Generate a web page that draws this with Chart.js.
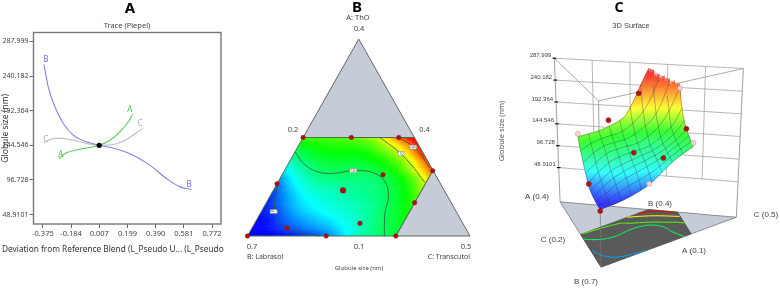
<!DOCTYPE html>
<html>
<head>
<meta charset="utf-8">
<title>Globule size</title>
<script src="https://cdn.jsdelivr.net/npm/chart.js@4"></script>
<style>
  html, body { margin: 0; padding: 0; background: #fff; }
  canvas { position: absolute; top: 0; filter: blur(0.35px); }
</style>
</head>
<body>
<canvas id="traceChart" width="240" height="288" style="left:0;width:240px;height:288px"></canvas>
<canvas id="ternaryChart" width="270" height="288" style="left:240px;width:270px;height:288px"></canvas>
<canvas id="surfaceChart" width="270" height="288" style="left:510px;width:270px;height:288px"></canvas>
<script>
// panel A: trace curves
var traceXTicks = [-0.375, -0.184, 0.007, 0.199, 0.390, 0.581, 0.772];
var traceXLabels = ["-0.375", "-0.184", "0.007", "0.199", "0.390", "0.581", "0.772"];
var sizeTicks = [287.999, 240.182, 192.364, 144.546, 96.728, 48.9101];
var sizeLabels = ["287.999", "240.182", "192.364", "144.546", "96.728", "48.9101"];
var traceBX = [-0.368, -0.339, -0.294, -0.237, -0.169, -0.079, 0.008, 0.112, 0.237, 0.350, 0.463, 0.554, 0.633];
var traceBY = [256.2, 225.3, 197.7, 174.7, 158.5, 149.3, 144.7, 140.1, 130.9, 117.1, 98.7, 87.1, 83.4];
var traceAX = [-0.267, -0.215, -0.124, 0.008, 0.079, 0.147, 0.204, 0.233];
var traceAY = [126.3, 134.1, 139.2, 144.7, 151.6, 163.1, 177.0, 187.1];
var traceCX = [-0.368, -0.328, -0.260, -0.169, -0.079, 0.008, 0.112, 0.192, 0.260, 0.301];
var traceCY = [148.5, 152.6, 154.4, 151.6, 147.0, 144.7, 146.1, 152.6, 161.8, 167.8];

// globule size over the blend, rows are A levels, columns are C levels
var gridA = [0.1, 0.1125, 0.125, 0.1375, 0.15, 0.1625, 0.175, 0.1875, 0.2, 0.2125, 0.225, 0.2375, 0.25];
var gridC = [0.2, 0.2167, 0.2333, 0.25, 0.2667, 0.2833, 0.3, 0.3167, 0.3333, 0.35, 0.3667, 0.3833, 0.4];
var sizeGrid = [
  [83, 84, 85, 87, 90, 94, 99, 107, 118, 129, 138, 145, 152],
  [84, 86, 91, 96, 101, 105, 109, 115, 122, 132, 141, 148, 154],
  [85, 88, 96, 103, 108, 112, 116, 121, 127, 134, 143, 150, 158],
  [87, 93, 102, 110, 115, 119, 123, 127, 131, 137, 145, 153, 163],
  [89, 99, 108, 115, 120, 124, 127, 130, 134, 139, 147, 156, 169],
  [92, 104, 113, 121, 125, 128, 131, 134, 137, 142, 150, 161, 177],
  [96, 110, 120, 128, 131, 134, 136, 137, 139, 146, 155, 167, 189],
  [105, 118, 128, 137, 139, 141, 141, 141, 143, 152, 163, 178, 208],
  [116, 128, 138, 145, 146, 147, 146, 148, 154, 164, 180, 206, 242],
  [127, 139, 147, 152, 152, 152, 153, 158, 166, 176, 198, 236, 285],
  [141, 150, 155, 158, 158, 158, 162, 170, 180, 198, 234, 280, 320],
  [155, 160, 163, 165, 166, 167, 173, 185, 203, 232, 272, 315, 350],
  [172, 172, 172, 173, 176, 180, 188, 213, 246, 277, 315, 350, 380]
];

// design points
var pointA = [0.25, 0.25, 0.25, 0.1994, 0.1507, 0.1, 0.1, 0.1, 0.1122, 0.1796, 0.1696, 0.1933, 0.1193];
var pointC = [0.2, 0.265, 0.329, 0.4, 0.4, 0.4, 0.306, 0.2, 0.247, 0.2, 0.294, 0.336, 0.342];
var pointSize = [178, 189, 229, 239, 170, 159, 103, 80, 96, 103, 143, 146, 137];
var pointBehind = [true, false, false, true, false, true, true, false, false, false, false, false, false];
var pointHidden = [false, false, false, false, false, false, false, false, true, false, false, true, false];

// contours
var contour97A = [0.1751, 0.1497, 0.1269, 0.1117, 0.1056, 0.1];
var contour97C = [0.2026, 0.2113, 0.2258, 0.247, 0.268, 0.298];
var contour145A = [0.2284, 0.2107, 0.198, 0.1954, 0.1995, 0.1964, 0.1827, 0.16, 0.1345, 0.1];
var contour145C = [0.2, 0.22, 0.2443, 0.268, 0.293, 0.3215, 0.3441, 0.36, 0.368, 0.3845];
var contour165A = [0.25, 0.2375, 0.225, 0.2, 0.175, 0.1625, 0.15];
var contour165C = [0.205, 0.2833, 0.3, 0.34, 0.372, 0.388, 0.4];
var contour192A = [0.25, 0.231, 0.2107, 0.1812];
var contour192C = [0.3037, 0.3356, 0.3638, 0.3987];
var contour240A = [0.25, 0.234, 0.2035];
var contour240C = [0.3279, 0.3588, 0.3943];

// limits of the blend region
var regionA = [0.25, 0.25, 0.2, 0.1, 0.1, 0.25];
var regionC = [0.2, 0.35, 0.4, 0.4, 0.2, 0.2];
var topCapA = [0.4, 0.25, 0.25, 0.4];
var topCapC = [0.2, 0.2, 0.35, 0.2];
var sideCapA = [0.2, 0.1, 0.1, 0.2];
var sideCapC = [0.4, 0.5, 0.4, 0.4];

// surface colour scale
var colorSizes = [85, 118, 160, 200, 262];
var colorStops = [[0, 0, 255], [0, 255, 255], [0, 255, 0], [255, 255, 0], [255, 0, 0]];

function sizeRgb(v) {
  if (v <= colorSizes[0]) return colorStops[0];
  for (let i = 1; i < colorSizes.length; i++) {
    if (v <= colorSizes[i]) {
      let f = (v - colorSizes[i - 1]) / (colorSizes[i] - colorSizes[i - 1]);
      return colorStops[i].map((c, k) => colorStops[i - 1][k] + (c - colorStops[i - 1][k]) * f);
    }
  }
  return colorStops[colorStops.length - 1];
}

function css(rgb, lighten) {
  let l = lighten || 0;
  return "rgb(" + rgb.map(c => Math.round(c + (255 - c) * l)).join(",") + ")";
}

function zipXY(xs, ys) {
  return xs.map((x, i) => ({ x: x, y: ys[i] }));
}

function sizeAt(r, c) {
  let i = Math.min(Math.floor(r), gridA.length - 2);
  let j = Math.min(Math.floor(c), gridC.length - 2);
  let u = r - i, w = c - j;
  return sizeGrid[i][j] * (1 - u) * (1 - w) + sizeGrid[i + 1][j] * u * (1 - w)
    + sizeGrid[i][j + 1] * (1 - u) * w + sizeGrid[i + 1][j + 1] * u * w;
}

function aAt(r) { return gridA[0] + (gridA[1] - gridA[0]) * r; }
function cAt(c) { return gridC[0] + (gridC[gridC.length - 1] - gridC[0]) / (gridC.length - 1) * c; }

// paints the grid, mapFn gives the data position of a blend
function shadeGrid(chart, mapFn, lighten, steps, cutCorner) {
  let ctx = chart.ctx, sx = chart.scales.x, sy = chart.scales.y;
  let px = (r, c) => {
    let p = mapFn(aAt(r), cAt(c), sizeAt(r, c));
    return [sx.getPixelForValue(p.x), sy.getPixelForValue(p.y)];
  };
  let d = 1 / steps;
  ctx.save();
  ctx.lineWidth = 0.6;
  for (let r = gridA.length - 1 - d; r >= -0.0001; r -= d) {
    for (let c = gridC.length - 1 - d; c >= -0.0001; c -= d) {
      if (cutCorner && aAt(r + d / 2) + cAt(c + d / 2) > 0.6) continue;
      let col = css(sizeRgb(sizeAt(r + d / 2, c + d / 2)), lighten);
      let p = [px(r, c), px(r + d, c), px(r + d, c + d), px(r, c + d)];
      ctx.fillStyle = col;
      ctx.strokeStyle = col;
      ctx.beginPath();
      ctx.moveTo(p[0][0], p[0][1]);
      for (let k = 1; k < 4; k++) ctx.lineTo(p[k][0], p[k][1]);
      ctx.closePath();
      ctx.fill();
      ctx.stroke();
    }
  }
  ctx.restore();
}

// text notes, drawn last
function notesPlugin(getItems) {
  return {
    id: "notes",
    afterDraw(chart) {
      let ctx = chart.ctx;
      getItems(chart).forEach(n => {
        ctx.save();
        ctx.translate(n.x, n.y);
        if (n.rot) ctx.rotate(n.rot);
        if (n.box) {
          ctx.fillStyle = "#fff";
          ctx.strokeStyle = "#888";
          ctx.lineWidth = 0.5;
          ctx.fillRect(-3.5, -2, 7, 4);
          ctx.strokeRect(-3.5, -2, 7, 4);
        }
        ctx.font = n.font;
        ctx.fillStyle = n.color || "#444";
        ctx.textAlign = n.align || "center";
        ctx.textBaseline = "middle";
        ctx.fillText(n.text, 0, 0);
        ctx.restore();
      });
    }
  };
}

var frameBox = {
  id: "frameBox",
  beforeDatasetsDraw(chart) {
    let a = chart.chartArea, ctx = chart.ctx;
    ctx.save();
    ctx.strokeStyle = "#777";
    ctx.lineWidth = 1.4;
    ctx.strokeRect(a.left, a.top, a.right - a.left, a.bottom - a.top);
    ctx.restore();
  }
};

var shadeHook = {
  id: "shadeHook",
  beforeDatasetDraw(chart, args) {
    let ds = chart.data.datasets[args.index];
    if (ds.shade) ds.shade(chart);
  }
};

var FONT_A = '"Noto Sans"';
var FONT_C = '"Liberation Sans"';

function curve(xs, ys, color) {
  return { data: zipXY(xs, ys), showLine: true, borderColor: color, borderWidth: 1.1, pointRadius: 0, cubicInterpolationMode: "monotone", clip: false };
}

new Chart(document.getElementById("traceChart"), {
  type: "scatter",
  data: {
    datasets: [
      { data: [{ x: 0.007, y: 144.546 }], pointRadius: 2.6, pointBackgroundColor: "#000", pointBorderWidth: 0 },
      curve(traceBX, traceBY, "#8080e8"),
      curve(traceAX, traceAY, "#5cc860"),
      curve(traceCX, traceCY, "#bdbdbd")
    ]
  },
  options: {
    responsive: false,
    animation: false,
    devicePixelRatio: 1,
    layout: { padding: { top: 32.5, right: 19, left: 0, bottom: 0 } },
    plugins: { legend: { display: false }, tooltip: { enabled: false } },
    scales: {
      x: {
        type: "linear",
        min: -0.439,
        max: 0.833,
        afterBuildTicks: axis => { axis.ticks = traceXTicks.map(v => ({ value: v })); },
        afterFit: axis => { axis.height = 64; },
        grid: { drawOnChartArea: false, tickLength: 4, tickColor: "#666" },
        border: { display: false },
        ticks: {
          autoSkip: false, maxRotation: 0, padding: 1,
          color: "#444", font: { family: FONT_A, size: 7.5 },
          callback: (v, i) => traceXLabels[i]
        }
      },
      y: {
        type: "linear",
        min: 35.8,
        max: 300.4,
        afterBuildTicks: axis => { axis.ticks = sizeTicks.map(v => ({ value: v })); },
        afterFit: axis => { axis.width = 33.5; },
        grid: { drawOnChartArea: false, tickLength: 4, tickColor: "#666" },
        border: { display: false },
        title: {
          display: true, text: "Globule size (nm)", color: "#333",
          font: { family: FONT_A, size: 8.5 }, padding: { top: 0, bottom: 0 }
        },
        ticks: {
          autoSkip: false, padding: 1,
          color: "#444", font: { family: FONT_A, size: 7 },
          callback: (v, i) => sizeLabels[i]
        }
      }
    }
  },
  plugins: [frameBox, notesPlugin(chart => {
    let sx = chart.scales.x, sy = chart.scales.y;
    let letter = (t, x, y, color) => ({ text: t, x: sx.getPixelForValue(x), y: sy.getPixelForValue(y), color: color, font: "8px " + FONT_A });
    return [
      { text: "A", x: 130, y: 9, color: "#000", font: "bold 15px " + FONT_A },
      { text: "Trace (Piepel)", x: 127, y: 26, color: "#444", font: "7.5px " + FONT_A },
      { text: "Deviation from Reference Blend (L_Pseudo U... (L_Pseudo", x: 2, y: 250, align: "left", color: "#333", font: "8.3px " + FONT_A },
      letter("B", -0.355, 263, "#6f6fe8"), letter("B", 0.617, 90, "#6f6fe8"),
      letter("A", 0.215, 194, "#3cbf4f"), letter("A", -0.253, 132, "#3cbf4f"),
      letter("C", -0.355, 152.6, "#aaa"), letter("C", 0.283, 174.6, "#aaa")
    ];
  })]
});

// panel B: blend to triangle position
function triXY(A, C) {
  return { x: C + (A - 0.1) / 2, y: A };
}

function triLine(As, Cs, extra) {
  return Object.assign({
    data: As.map((A, i) => triXY(A, Cs[i])), showLine: true, pointRadius: 0, clip: false
  }, extra);
}

function contourB(As, Cs) {
  return triLine(As, Cs, { borderColor: "#2f5a36", borderWidth: 0.8, tension: 0.4, order: 20 });
}

function clipRegion(chart) {
  let ctx = chart.ctx, sx = chart.scales.x, sy = chart.scales.y;
  ctx.beginPath();
  regionA.forEach((A, i) => {
    let p = triXY(A, regionC[i]);
    let px = sx.getPixelForValue(p.x), py = sy.getPixelForValue(p.y);
    if (i === 0) ctx.moveTo(px, py); else ctx.lineTo(px, py);
  });
  ctx.closePath();
  ctx.clip();
}

new Chart(document.getElementById("ternaryChart"), {
  type: "scatter",
  data: {
    datasets: [
      triLine(topCapA, topCapC, { fill: "shape", backgroundColor: "#c6cbd8", borderColor: "#666", borderWidth: 1, order: 40 }),
      triLine(sideCapA, sideCapC, { fill: "shape", backgroundColor: "#c6cbd8", borderColor: "#666", borderWidth: 1, order: 40 }),
      {
        data: [], order: 30,
        shade: chart => {
          chart.ctx.save();
          clipRegion(chart);
          shadeGrid(chart, (A, C) => triXY(A, C), 0, 4, false);
          chart.ctx.restore();
        }
      },
      triLine(regionA, regionC, { borderColor: "#4c6d4c", borderWidth: 1, order: 25 }),
      contourB(contour97A, contour97C),
      contourB(contour145A, contour145C),
      contourB(contour192A, contour192C),
      contourB(contour240A, contour240C),
      {
        data: pointA.map((A, i) => triXY(A, pointC[i])),
        order: 10, clip: false,
        pointRadius: pointA.map((A, i) => i === 10 ? 2.9 : 2.3),
        pointBackgroundColor: "#a51414", pointBorderColor: "#7c1010", pointBorderWidth: 0.4
      }
    ]
  },
  options: {
    responsive: false,
    animation: false,
    devicePixelRatio: 1,
    layout: { padding: { left: 7.5, right: 40, top: 39, bottom: 52 } },
    plugins: { legend: { display: false }, tooltip: { enabled: false } },
    scales: {
      x: { type: "linear", min: 0.2, max: 0.5, display: false },
      y: { type: "linear", min: 0.1, max: 0.4, display: false }
    }
  },
  plugins: [shadeHook, notesPlugin(chart => {
    let sx = chart.scales.x, sy = chart.scales.y;
    let tag = (t, A, C) => {
      let p = triXY(A, C);
      return { text: t, x: sx.getPixelForValue(p.x), y: sy.getPixelForValue(p.y), box: true, color: "#666", font: "3.5px " + FONT_A };
    };
    let f = "7.5px " + FONT_A;
    return [
      { text: "B", x: 117, y: 8, color: "#000", font: "bold 15px " + FONT_A },
      { text: "A: ThO", x: 118, y: 18, font: f },
      { text: "0.4", x: 119, y: 29, font: f },
      { text: "0.2", x: 53, y: 130, font: f },
      { text: "0.4", x: 184.5, y: 130, font: f },
      { text: "0.7", x: 12, y: 247, font: f },
      { text: "0.1", x: 119, y: 247, font: f },
      { text: "0.5", x: 226, y: 247, font: f },
      { text: "B: Labrasol", x: 7, y: 257, align: "left", font: "7px " + FONT_A },
      { text: "C: Transcutol", x: 230, y: 257, align: "right", font: "7px " + FONT_A },
      { text: "Globule size (nm)", x: 119, y: 268, font: "6px " + FONT_A },
      { text: "Globule size (nm)", x: 262, y: 131, rot: -Math.PI / 2, color: "#555", font: "7.5px " + FONT_A },
      tag("96.7", 0.1375, 0.2165),
      tag("145", 0.1995, 0.293),
      tag("192", 0.2255, 0.344),
      tag("240", 0.2355, 0.3555)
    ];
  })]
});

// panel C: blend and size to the 3D view
var viewFloor = { A: [46.7, 204], B: [89.3, 271.7], C: [230, 220] };
var viewTop = { A: [40.7, 55], B: [86.7, 99.3], C: [237.3, 65.7] };
var zFloor = -26, zTop = 288;

function view3d(A, C, size) {
  let a = (A - 0.1) / 0.3, c = (C - 0.2) / 0.3, b = 1 - a - c;
  let t = (size - zFloor) / (zTop - zFloor);
  let at = k => {
    let lo = a * viewFloor.A[k] + b * viewFloor.B[k] + c * viewFloor.C[k];
    let hi = a * viewTop.A[k] + b * viewTop.B[k] + c * viewTop.C[k];
    return lo + (hi - lo) * t;
  };
  return { x: at(0), y: at(1) };
}

function viewLine(As, Cs, sizes, extra) {
  return Object.assign({
    data: As.map((A, i) => view3d(A, Cs[i], sizes[i])), showLine: true, pointRadius: 0, clip: false
  }, extra);
}

function floorLine(As, Cs, extra) {
  return viewLine(As, Cs, As.map(() => zFloor), extra);
}

function wire(A0, C0, z0, A1, C1, z1, color) {
  return viewLine([A0, A1], [C0, C1], [z0, z1], { borderColor: color, borderWidth: 0.7, order: 40 });
}

var surfaceSets = [];
var meshColor = "rgba(45,55,55,0.6)";
var meshLines = 9;
// floor
surfaceSets.push(floorLine([0.4, 0.1, 0.1, 0.4], [0.2, 0.2, 0.5, 0.2], { fill: "shape", backgroundColor: "#c6cbd8", borderColor: "#777", borderWidth: 0.8, order: 60 }));
surfaceSets.push(floorLine(regionA, regionC, { fill: "shape", backgroundColor: "#5a5a5a", borderColor: "#444", borderWidth: 0.6, order: 55 }));
[[contour97A, contour97C, 106], [contour145A, contour145C, 145], [contour165A, contour165C, 172], [contour192A, contour192C, 200], [contour240A, contour240C, 262]].forEach(k => {
  surfaceSets.push(floorLine(k[0], k[1], { borderColor: css(sizeRgb(k[2])), borderWidth: 1, tension: 0.4, order: 50 }));
});
// back wall and frame
sizeTicks.forEach(v => {
  surfaceSets.push(wire(0.4, 0.2, v, 0.1, 0.5, v, "#999"));
});
[0.2, 0.4, 0.6, 0.8].forEach(f => {
  surfaceSets.push(wire(0.4 - 0.3 * f, 0.2 + 0.3 * f, 48.9101, 0.4 - 0.3 * f, 0.2 + 0.3 * f, zTop, "#999"));
});
surfaceSets.push(wire(0.4, 0.2, zFloor, 0.4, 0.2, zTop, "#777"));
surfaceSets.push(wire(0.1, 0.5, zFloor, 0.1, 0.5, zTop, "#777"));
surfaceSets.push(wire(0.1, 0.2, zFloor, 0.1, 0.2, zTop, "#777"));
surfaceSets.push(wire(0.4, 0.2, zTop, 0.1, 0.2, zTop, "#888"));
surfaceSets.push(wire(0.1, 0.2, zTop, 0.1, 0.5, zTop, "#888"));
// shaded surface
surfaceSets.push({
  data: [], order: 30,
  shade: chart => shadeGrid(chart, view3d, 0.2, 6, true)
});
// mesh lines
for (let k = 0; k <= meshLines; k++) {
  let r = k * (gridA.length - 1) / meshLines, A = aAt(r);
  let cols = gridC.map((c, j) => j).filter(j => A + gridC[j] <= 0.6001);
  surfaceSets.push(viewLine(cols.map(() => A), cols.map(j => gridC[j]), cols.map(j => sizeAt(r, j)), { borderColor: meshColor, borderWidth: 0.6, tension: 0.3, order: 20 }));
  let c = k * (gridC.length - 1) / meshLines, C = cAt(c);
  let rows = gridA.map((a, i) => i).filter(i => gridA[i] + C <= 0.6001);
  surfaceSets.push(viewLine(rows.map(i => gridA[i]), rows.map(() => C), rows.map(i => sizeAt(i, c)), { borderColor: meshColor, borderWidth: 0.6, tension: 0.3, order: 20 }));
}
surfaceSets.push(viewLine([0.25, 0.2], [0.35, 0.4], [277, 242], { borderColor: meshColor, borderWidth: 0.6, order: 20 }));
// axis ticks on the left post
surfaceSets.push({
  data: sizeTicks.map(v => view3d(0.4, 0.2, v)), order: 15, clip: false,
  pointStyle: "line", pointRadius: 1.8, pointBorderColor: "#111", pointBorderWidth: 1.2
});
// design points
surfaceSets.push({
  data: pointA.map((A, i) => view3d(A, pointC[i], pointSize[i])),
  order: 10, clip: false,
  pointRadius: pointA.map((A, i) => pointHidden[i] ? 0 : 2.5),
  pointBackgroundColor: pointA.map((A, i) => pointBehind[i] ? "#f4d4d4" : "#b01414"),
  pointBorderColor: pointA.map((A, i) => pointBehind[i] ? "#c09090" : "#8a1010"),
  pointBorderWidth: 0.5
});

new Chart(document.getElementById("surfaceChart"), {
  type: "scatter",
  data: { datasets: surfaceSets },
  options: {
    responsive: false,
    animation: false,
    devicePixelRatio: 1,
    layout: { padding: 0 },
    plugins: { legend: { display: false }, tooltip: { enabled: false } },
    scales: {
      x: { type: "linear", min: 0, max: 270, display: false },
      y: { type: "linear", min: 0, max: 288, reverse: true, display: false }
    }
  },
  plugins: [shadeHook, notesPlugin(chart => {
    let sx = chart.scales.x, sy = chart.scales.y;
    let f = "8px " + FONT_C;
    let items = sizeTicks.map((v, i) => {
      let p = view3d(0.4, 0.2, v);
      return { text: sizeLabels[i], x: sx.getPixelForValue(p.x) - 3, y: sy.getPixelForValue(p.y) - 3, align: "right", color: "#444", font: "6px " + FONT_C };
    });
    return items.concat([
      { text: "C", x: 109, y: 8, color: "#000", font: "bold 14px " + FONT_A },
      { text: "3D Surface", x: 121, y: 26, color: "#444", font: "7.5px " + FONT_C },
      { text: "A (0.4)", x: 27, y: 197, font: f },
      { text: "B (0.4)", x: 150, y: 204, font: f },
      { text: "C (0.5)", x: 256, y: 215, font: f },
      { text: "C (0.2)", x: 43, y: 240, font: f },
      { text: "A (0.1)", x: 184, y: 251, font: f },
      { text: "B (0.7)", x: 76, y: 282, font: f }
    ]);
  })]
});
</script>
</body>
</html>
